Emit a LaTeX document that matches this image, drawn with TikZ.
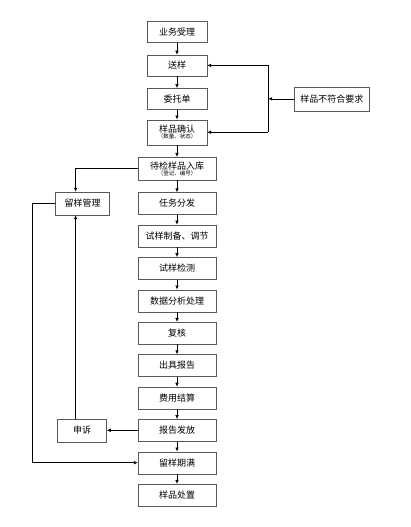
\documentclass[tikz,border=0pt]{standalone}
\usepackage{fontspec}
\setmainfont{Noto Sans CJK SC}
\usetikzlibrary{
    arrows.meta,
    positioning,
    calc
}
\newcommand{\notesize}{\fontsize{5.5}{6}\selectfont}
\tikzset{
  box/.style   = {draw=black!65, minimum width=60pt, minimum height=21pt,
                  align=center, inner sep=1pt, font=\fontsize{9}{10}\selectfont},
  wbox/.style  = {box, minimum width=78pt, minimum height=22pt},
  arr/.style   = {-{Latex[length=4pt,width=3.6pt]}, line width=0.6pt},
  line/.style  = {line width=0.6pt}
}

\begin{document}
\begin{tikzpicture}[x=1pt, y=1pt, node distance=10pt]
\useasboundingbox (0,0) rectangle (411,-527);

% main column
\node[box] (ywsl) at (177,-32) {业务受理};
\node[box, below=12pt of ywsl] (sy) {送样};
\node[box, below=12pt of sy] (wtd) {委托单};
\node[box, minimum height=25pt, below=10pt of wtd] (ypqr)
      {样品确认\\[-4pt]{\notesize （数量、状态）}};
\node[wbox, minimum height=23pt, below=12pt of ypqr] (djyp)
      {待检样品入库\\[-4pt]{\notesize （登记、编号）}};
\node[wbox, below=12pt of djyp] (rwff) {任务分发};
\node[wbox, below=of rwff] (syzb) {试样制备、调节};
\node[wbox, below=of syzb] (syjc) {试样检测};
\node[wbox, below=of syjc] (sjfx) {数据分析处理};
\node[wbox, below=of sjfx] (fh) {复核};
\node[wbox, below=of fh] (cjbg) {出具报告};
\node[wbox, below=of cjbg] (fyjs) {费用结算};
\node[wbox, below=of fyjs] (bgff) {报告发放};
\node[wbox, below=of bgff] (lymm) {留样期满};
\node[wbox, below=of lymm] (ypcz) {样品处置};

% side boxes
\node[box, minimum width=75pt, minimum height=24pt, right=87pt of wtd] (bfh) {样品不符合要求};
\node[box, minimum width=54pt, minimum height=23pt, left=28pt of rwff] (lygl) {留样管理};
\node[box, minimum width=49pt, minimum height=23pt, left=31pt of bgff] (ss) {申诉};

\foreach \a/\b in {ywsl/sy, sy/wtd, wtd/ypqr, ypqr/djyp, djyp/rwff, rwff/syzb,
                   syzb/syjc, syjc/sjfx, sjfx/fh, fh/cjbg, cjbg/fyjs, fyjs/bgff,
                   bgff/lymm, lymm/ypcz}
  \draw[arr] (\a) -- (\b);

% feedback on the right
\coordinate (vr) at ($(bfh.west)+(-26pt,0)$);
\draw[arr] (bfh) -- (vr);
\draw[line] (vr |- sy) -- (vr |- ypqr);
\draw[arr] (vr |- sy) -- (sy);
\draw[arr] (vr |- ypqr) -- (ypqr);

% retained samples on the left
\coordinate (lx) at ($(lygl.north)+(-7pt,0)$);
\draw[arr] (djyp.west) -| (lx);
\draw[arr] (bgff) -- (ss);
\draw[arr] (ss.north -| lx) -- (lx |- lygl.south);
\draw[arr] (lygl.west) -- ++(-23pt,0) |- (lymm);
\end{tikzpicture}
\end{document}
